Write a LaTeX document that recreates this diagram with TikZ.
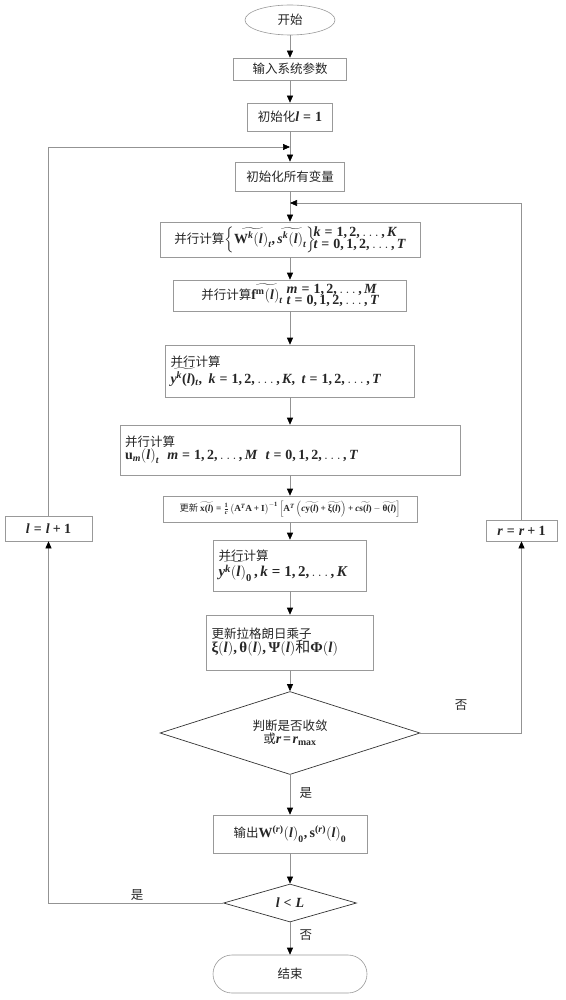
\documentclass[tikz,border=0pt]{standalone}
\usepackage{amsmath,graphicx}
\usepackage[no-math]{fontspec}
\setmainfont{Noto Sans CJK SC}
\newfontfamily\tnr{Liberation Serif}[NFSSFamily=tnr]
\DeclareSymbolFont{tnrbi}{TU}{tnr}{b}{it}
\DeclareSymbolFont{tnrb}{TU}{tnr}{b}{n}
\DeclareMathAlphabet{\mbf}{TU}{tnr}{b}{n}
\DeclareMathSymbol{c}{\mathalpha}{tnrbi}{`c}
\DeclareMathSymbol{k}{\mathalpha}{tnrbi}{`k}
\DeclareMathSymbol{l}{\mathalpha}{tnrbi}{`l}
\DeclareMathSymbol{m}{\mathalpha}{tnrbi}{`m}
\DeclareMathSymbol{r}{\mathalpha}{tnrbi}{`r}
\DeclareMathSymbol{s}{\mathalpha}{tnrbi}{`s}
\DeclareMathSymbol{t}{\mathalpha}{tnrbi}{`t}
\DeclareMathSymbol{y}{\mathalpha}{tnrbi}{`y}
\DeclareMathSymbol{K}{\mathalpha}{tnrbi}{`K}
\DeclareMathSymbol{L}{\mathalpha}{tnrbi}{`L}
\DeclareMathSymbol{M}{\mathalpha}{tnrbi}{`M}
\DeclareMathSymbol{T}{\mathalpha}{tnrbi}{`T}
\DeclareMathSymbol{0}{\mathalpha}{tnrb}{`0}
\DeclareMathSymbol{1}{\mathalpha}{tnrb}{`1}
\DeclareMathSymbol{2}{\mathalpha}{tnrb}{`2}
\DeclareMathSymbol{=}{\mathrel}{tnrb}{`=}
\DeclareMathSymbol{+}{\mathbin}{tnrb}{`+}
\DeclareMathSymbol{<}{\mathrel}{tnrb}{`<}
\DeclareMathSymbol{,}{\mathpunct}{tnrb}{`,}
\DeclareMathSymbol{(}{\mathopen}{tnrb}{`(}
\DeclareMathSymbol{)}{\mathclose}{tnrb}{`)}
\newcommand{\gk}[1]{\mbox{\tnr\bfseries #1}}
\usetikzlibrary{arrows.meta,shapes.geometric}
\begin{document}
\begin{tikzpicture}[x=1pt,y=-1pt,
  every node/.style={font=\fontsize{12.5}{15}\selectfont, text=black!85},
  box/.style={draw=gray!80, line width=0.6pt, rectangle, inner sep=2pt, align=center},
  lbox/.style={box, align=left, inner xsep=5pt},
  dia/.style={draw=black!80, line width=0.7pt, diamond, aspect=3.1, inner sep=0pt, align=center},
  line/.style={draw=gray!85, line width=0.6pt},
  arr/.style={line, -{Triangle[length=7pt,width=6pt,color=black]}},
  lab/.style={font=\fontsize{12.5}{15}\selectfont}]
\useasboundingbox (0,0) rectangle (565,1000);
% nodes
\node[draw=gray!80, line width=0.6pt, ellipse, minimum width=90pt, minimum height=30pt, inner sep=0pt] (start) at (290,20) {开始};
\node[box, minimum width=113pt, minimum height=22pt] (inp) at (290,69) {输入系统参数};
\node[box, minimum width=85pt, minimum height=28pt] (init) at (290,117) {初始化{\fontsize{14}{16}\selectfont$l=1$}};
\node[box, minimum width=109pt, minimum height=29pt] (initall) at (290,176.5) {初始化所有变量};
\node[box, minimum width=260pt, minimum height=35pt] (W) at (290,239.5)
  {并行计算{\fontsize{14}{16}\selectfont$\left\{\widetilde{\mbf{W}^k\big(l\big)_t},\widetilde{s^k\big(l\big)_t}\right\}\!\!\begin{array}{@{}l@{}}k=1,2,\ldots,K\\[-4pt]t=0,1,2,\ldots,T\end{array}$}};
\node[box, minimum width=233pt, minimum height=29pt] (f) at (290,295.5)
  {并行计算{\fontsize{14}{16}\selectfont$\widetilde{\mbf{f}^{\mbf{m}}\big(l\big)_t}\;\begin{array}{@{}l@{}}m=1,2,\ldots,M\\[-5pt]t=0,1,2,\ldots,T\end{array}$}};
\node[lbox, text width=239pt, minimum height=52pt] (y) at (290,371)
  {并行计算\\[-1pt]{\fontsize{14}{16}\selectfont$\widetilde{y^k(l)_t},\ k=1,2,\ldots,K,\ t=1,2,\ldots,T$}};
\node[lbox, text width=330pt, minimum height=50pt] (u) at (290,450)
  {并行计算\\[-2pt]{\fontsize{14}{16}\selectfont$\mbf{u}_m\big(l\big)_t\ \ m=1,2,\ldots,M\ \ t=0,1,2,\ldots,T$}};
\node[box, minimum width=254pt, minimum height=26pt] (x) at (290,509)
  {\scalebox{0.74}{更新\ $\widetilde{\mbf{x}(l)}=\frac{1}{c}\left(\mbf{A}^T\mbf{A}+\mbf{I}\right)^{-1}\left[\mbf{A}^T\left(c\widetilde{\mbf{y}(l)}+\widetilde{\gk{ξ}(l)}\right)+c\widetilde{\mbf{s}(l)}-\widetilde{\gk{θ}(l)}\right]$}};
\node[lbox, text width=143pt, minimum height=51pt] (y0) at (290,565.5)
  {并行计算\\[-2pt]{\fontsize{15}{17}\selectfont$\widetilde{y^k\big(l\big)_0}\,,k=1,2,\ldots,K$}};
\node[lbox, text width=157pt, minimum height=55pt] (lag) at (290,642.5)
  {更新拉格朗日乘子\\[-1pt]{\fontsize{15}{17}\selectfont$\gk{ξ}\big(l\big),\gk{θ}\big(l\big),\gk{Ψ}\big(l\big)$和$\gk{Φ}\big(l\big)$}};
\node[dia, minimum width=260pt, minimum height=83pt] (d1) at (290,733)
  {判断是否收敛\\[-2pt]或{\fontsize{14}{16}\selectfont$r\!=\!r_{\mbf{max}}$}};
\node[box, minimum width=154pt, minimum height=38pt] (out) at (290,834)
  {输出{\fontsize{14}{16}\selectfont$\mbf{W}^{(r)}\big(l\big)_0,\mbf{s}^{(r)}\big(l\big)_0$}};
\node[dia, minimum width=133pt, minimum height=38pt, aspect=3.5] (d2) at (290,903) {{\fontsize{14}{16}\selectfont$l<L$}};
\node[draw=gray!80, line width=0.6pt, rounded corners=19pt, minimum width=154pt, minimum height=38pt] (end) at (290,974) {结束};
\node[box, minimum width=71pt, minimum height=21pt] (rb) at (521.5,530.5) {{\fontsize{14}{16}\selectfont$r=r+1$}};
\node[box, minimum width=87pt, minimum height=25pt] (lb) at (48.5,528.5) {{\fontsize{14}{16}\selectfont$l=l+1$}};
\coordinate (j1) at (290,147);
\coordinate (j2) at (290,203);
% connectors
\draw[arr] (start) -- (inp);
\draw[arr] (inp) -- (init);
\draw[arr] (init) -- (initall);
\draw[arr] (initall) -- (W);
\draw[arr] (W) -- (f);
\draw[arr] (f) -- (y);
\draw[arr] (y) -- (u);
\draw[arr] (u) -- (x);
\draw[arr] (x) -- (y0);
\draw[arr] (y0) -- (lag);
\draw[arr] (lag) -- (d1);
\draw[arr] (d1) -- node[lab, right=6pt, pos=0.45] (yes1) {是} (out);
\draw[arr] (out) -- (d2);
\draw[arr] (d2) -- node[lab, right=6pt, pos=0.4] (no2) {否} (end);
\draw[arr] (d1.east) -| (rb.south);
\draw[arr] (rb.north) |- (j2);
\draw[arr] (d2.west) -| (lb.south);
\draw[arr] (lb.north) |- (j1);
\node[lab] (no1) at (461,705) {否};
\node[lab] (yes2) at (137,895) {是};
\end{tikzpicture}
\end{document}
